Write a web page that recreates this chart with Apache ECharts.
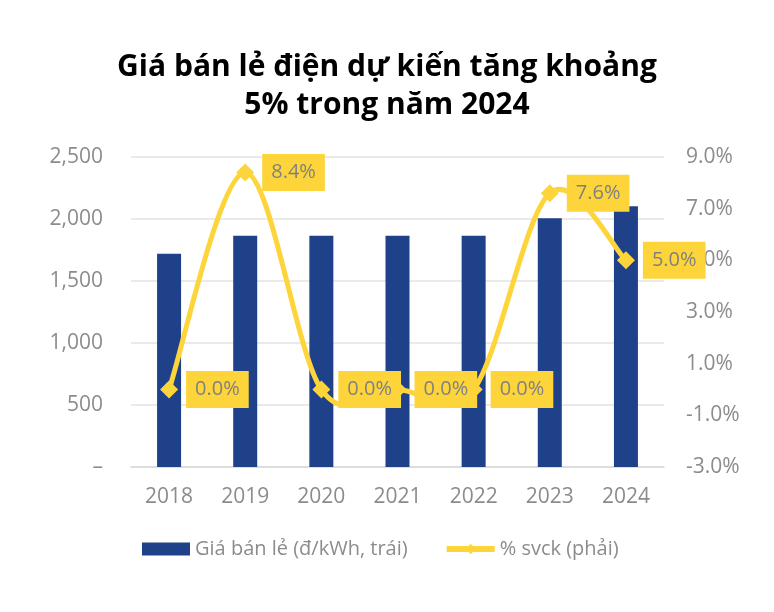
<!DOCTYPE html>
<html>
<head>
<meta charset="utf-8">
<script src="https://cdn.jsdelivr.net/npm/echarts@6/dist/echarts.min.js"></script>
<style>
html,body{margin:0;padding:0;background:#fff;}
#chart{width:774px;height:612px;}
</style>
</head>
<body>
<div id="chart"></div>
<script>
const titleText = 'Giá bán lẻ điện dự kiến tăng khoảng\n5% trong năm 2024';
const years = ['2018', '2019', '2020', '2021', '2022', '2023', '2024'];
const priceValues = [1720, 1864, 1864, 1864, 1864, 2007, 2103];
const growthValues = [0.0, 8.4, 0.0, 0.0, 0.0, 7.6, 5.0];
const barName = 'Giá bán lẻ (đ/kWh, trái)';
const lineName = '% svck (phải)';

const FONT = '"Open Sans", sans-serif';
const GRAY = '#8c8c8c';
const BLUE = '#1f418a';
const YELLOW = '#fdd53a';

// Excel-style smoothed line (Catmull-Rom) drawn through the axis scales
function renderSmoothSegment(params, api) {
  const i = params.dataIndex;
  const n = growthValues.length;
  if (i >= n - 1) return null;
  const P = k => api.coord([k, growthValues[k]]);
  const p0 = P(Math.max(i - 1, 0));
  const p1 = P(i);
  const p2 = P(i + 1);
  const p3 = P(Math.min(i + 2, n - 1));
  return {
    type: 'bezierCurve',
    shape: {
      x1: p1[0], y1: p1[1],
      x2: p2[0], y2: p2[1],
      cpx1: p1[0] + (p2[0] - p0[0]) / 6,
      cpy1: p1[1] + (p2[1] - p0[1]) / 6,
      cpx2: p2[0] - (p3[0] - p1[0]) / 6,
      cpy2: p2[1] - (p3[1] - p1[1]) / 6
    },
    style: {stroke: YELLOW, lineWidth: 5, fill: null, lineCap: 'round'}
  };
}

const chart = echarts.init(document.getElementById('chart'), null, {renderer: 'canvas'});
chart.setOption({
  backgroundColor: '#ffffff',
  animation: false,
  title: {
    text: titleText,
    left: 'center',
    top: 43,
    textStyle: {fontFamily: FONT, fontSize: 30, fontWeight: 700, color: '#000', lineHeight: 38}
  },
  legend: {
    left: 142,
    top: 539,
    padding: 0,
    itemWidth: 48,
    itemHeight: 13,
    itemGap: 36,
    textStyle: {fontFamily: FONT, fontSize: 20, color: GRAY},
    data: [
      {name: barName, icon: 'rect'},
      {name: lineName, lineStyle: {color: YELLOW, width: 6, opacity: 1}}
    ]
  },
  grid: {left: 131, right: 110, top: 157, bottom: 145, containLabel: false},
  xAxis: {
    type: 'category',
    data: years,
    axisTick: {show: false},
    axisLine: {lineStyle: {color: '#d9d9d9', width: 1.5}},
    axisLabel: {fontFamily: FONT, fontSize: 21, color: GRAY, margin: 20}
  },
  yAxis: [
    {
      type: 'value', min: 0, max: 2500, interval: 500,
      axisLine: {show: false}, axisTick: {show: false},
      splitLine: {lineStyle: {color: '#e3e3e3', width: 1.5}},
      axisLabel: {
        fontFamily: FONT, fontSize: 21, color: GRAY, margin: 28,
        formatter: v => v === 0 ? '–' : v.toLocaleString('en-US')
      }
    },
    {
      type: 'value', min: -3, max: 9, interval: 2,
      axisLine: {show: false}, axisTick: {show: false},
      splitLine: {show: false},
      axisLabel: {
        fontFamily: FONT, fontSize: 21, color: GRAY, margin: 22,
        formatter: v => v.toFixed(1) + '%'
      }
    }
  ],
  series: [
    {
      name: barName,
      type: 'bar',
      data: priceValues,
      barWidth: 24,
      itemStyle: {color: BLUE},
      yAxisIndex: 0
    },
    {
      name: 'curve',
      type: 'custom',
      yAxisIndex: 1,
      data: growthValues.map((v, i) => [i, v]),
      encode: {x: 0, y: 1},
      renderItem: renderSmoothSegment,
      z: 4,
      silent: true
    },
    {
      name: lineName,
      type: 'line',
      data: growthValues,
      yAxisIndex: 1,
      symbol: 'diamond',
      symbolSize: 18,
      lineStyle: {color: YELLOW, width: 5, opacity: 0},
      itemStyle: {color: YELLOW},
      z: 5,
      label: {
        show: true,
        position: 'right',
        distance: 8,
        fontFamily: FONT,
        fontSize: 20,
        color: '#808080',
        backgroundColor: YELLOW,
        padding: [9, 9, 8, 9],
        formatter: p => p.value.toFixed(1) + '%'
      }
    }
  ]
});
</script>
</body>
</html>
